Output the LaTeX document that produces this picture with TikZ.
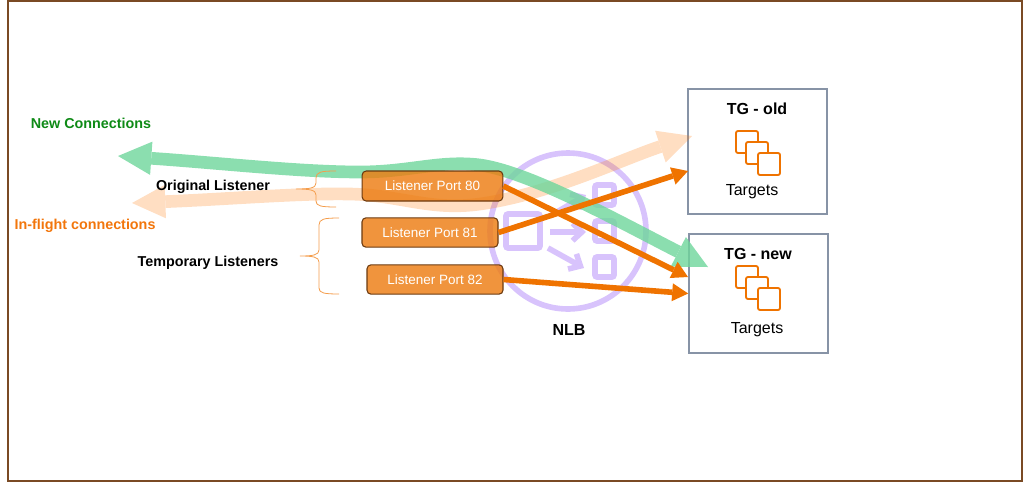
\documentclass[tikz,border=0pt]{standalone}
\usepackage{fontspec}
\setmainfont{Liberation Sans}
\usetikzlibrary{arrows.meta}

\definecolor{framebrown}{HTML}{7A4A24}
\definecolor{bandgreen}{HTML}{6ED69B}
\definecolor{bandorange}{HTML}{FF7A0A}
\definecolor{portorange}{HTML}{ED7D12}
\definecolor{portedge}{HTML}{6B3A10}
\definecolor{arroworange}{HTML}{EF7300}
\definecolor{nlbpurple}{HTML}{D8C3FC}
\definecolor{boxgrey}{HTML}{8793A6}
\definecolor{greenlabel}{HTML}{0E8A16}
\definecolor{orangelabel}{HTML}{F2760C}

\tikzset{
  port/.style={draw=portedge,line width=.8pt,fill=portorange,fill opacity=.82,text opacity=1,
    rounded corners=3pt,inner sep=0pt,text=white,font=\fontsize{10.1}{12}\selectfont},
  group/.style={draw=boxgrey,line width=1.5pt,inner sep=0pt},
  route/.style={draw=arroworange,line width=4.2pt,-{Triangle[length=12pt,width=13.5pt,line width=0pt]}},
  band/.style={line width=9.5pt,{Triangle[length=25pt,width=25pt,line width=0pt]}-{Triangle[length=25pt,width=25pt,line width=0pt]}},
  icon/.style={draw=nlbpurple,line width=4.2pt,rounded corners=1.5pt},
  flow/.style={draw=nlbpurple,line width=4.2pt,-{Straight Barb[length=7pt,width=13pt]}},
  member/.style={draw=arroworange,line width=1.4pt,fill=white,rounded corners=1.5pt},
  bracket/.style={draw=arroworange!70,line width=.6pt},
  head/.style={font=\bfseries\fontsize{10.75}{13}\selectfont,inner sep=0pt},
  title/.style={font=\bfseries\fontsize{12}{14}\selectfont,inner sep=0pt},
  plain/.style={font=\fontsize{12}{14}\selectfont,inner sep=0pt},
}

\begin{document}
\begin{tikzpicture}[x=.75pt,y=-.75pt]
    \useasboundingbox (0,0) rectangle (1024,483);
    \draw[framebrown,line width=1.1pt] (8,1) rectangle (1022,481);
    % nlb icon
    \draw[nlbpurple,line width=4.2pt] (568,231) circle (78);
    \draw[icon] (506,214) rectangle (540,248);
    \foreach \yy in {185,221,257} {
      \draw[icon] (595,\yy) rectangle (614,\yy+20);
    }
    \draw[flow] (550,232) -- (586,232);
    \draw[flow] (548,248) -- (584,268);
    \draw[flow] (550,216) -- (586,195);
    % target groups
    \node[group,minimum width=104pt,minimum height=93.5pt] (tgold) at (757.5,151.5) {};
    \node[group,minimum width=104pt,minimum height=89pt] (tgnew) at (758.5,293.5) {};
    \foreach \yy in {0,135} {
      \draw[member] (736,131+\yy) rectangle (758,153+\yy);
      \draw[member] (746,142+\yy) rectangle (768,164+\yy);
      \draw[member] (758,153+\yy) rectangle (780,175+\yy);
    }
    % wide arrows
    \begin{scope}[transparency group,opacity=.25]
      \draw[band,draw=bandorange] (132,203) .. controls (230,199) and (300,193) .. (350,194) .. controls (400,195) and (430,211) .. (480,204) .. controls (550,194) and (620,160) .. (692,136);
    \end{scope}
    \begin{scope}[transparency group,opacity=.8]
      \draw[band,draw=bandgreen] (118,156) .. controls (220,163) and (300,172) .. (360,172) .. controls (410,172) and (440,160) .. (480,165) .. controls (530,172) and (620,222) .. (708,267);
    \end{scope}
    % listeners
    \node[port,minimum width=105.5pt,minimum height=22.5pt] (port80) at (432.5,186) {Listener Port 80};
    \node[port,minimum width=102pt,minimum height=22pt] (port81) at (430,232.5) {Listener Port 81};
    \node[port,minimum width=102pt,minimum height=22pt] (port82) at (435,279.5) {Listener Port 82};
    \coordinate (in80) at (688,277);
    \coordinate (in81) at (688,171);
    \draw[route] (port80.east) -- (in80);
    \draw[route] (port81.east) -- (in81);
    \draw[route] (port82.east) -- (tgnew.west);
    % braces
    \draw[bracket] (336,171) .. controls (321,171) and (316,172) .. (316,178) -- (316,183) .. controls (316,188) and (310,189) .. (296,189) .. controls (310,189) and (316,190) .. (316,195) -- (316,201) .. controls (316,206) and (321,207) .. (336,207);
    \draw[bracket] (339,218) .. controls (324,218) and (319,219) .. (319,225) -- (319,250) .. controls (319,255) and (313,256) .. (300,256) .. controls (313,256) and (319,257) .. (319,262) -- (319,288) .. controls (319,293) and (324,294) .. (339,294);
    % labels
    \node[head,text=greenlabel] (newconn) at (91,123) {New Connections};
    \node[head,text=orangelabel] (inflight) at (85,226) {In-flight connections};
    \node[head] (origlabel) at (213,187) {Original Listener};
    \node[head] (templabel) at (208,263) {Temporary Listeners};
    \node[title] (nlb) at (569,330) {NLB};
    \node[title] (oldtitle) at (757,109) {TG - old};
    \node[title] (newtitle) at (758,254) {TG - new};
    \node[plain] (oldtargets) at (752,192) {Targets};
    \node[plain] (newtargets) at (757,330) {Targets};
\end{tikzpicture}
\end{document}
